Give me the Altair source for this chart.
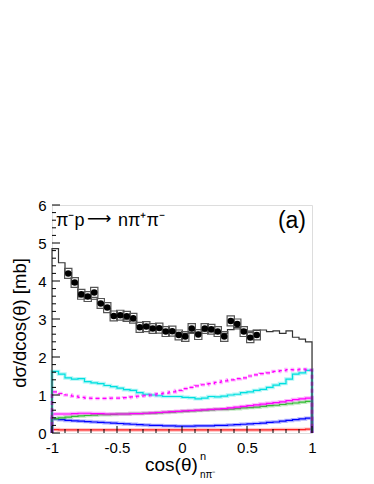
import altair as alt
import pandas as pd

# ---------------- data ----------------
edges = [round(-1 + 0.05 * i, 3) for i in range(41)]

data_x = [round(-0.875 + 0.05 * k, 3) for k in range(30)]
data_vals = [4.20, 3.96, 3.65, 3.59, 3.70, 3.41, 3.30, 3.08, 3.10, 3.07,
             3.02, 2.78, 2.80, 2.75, 2.76, 2.67, 2.68, 2.58, 2.54, 2.75,
             2.59, 2.75, 2.73, 2.67, 2.54, 2.95, 2.87, 2.67, 2.51, 2.58]

mc_total = [4.85, 4.48, 4.22, 3.92, 3.58, 3.55, 3.52, 3.40, 3.28, 3.10,
            3.05, 2.98, 2.95, 2.82, 2.80, 2.78, 2.75, 2.72, 2.70, 2.65,
            2.62, 2.65, 2.65, 2.68, 2.66, 2.62, 2.62, 2.72, 2.78, 2.72,
            2.68, 2.70, 2.71, 2.67, 2.69, 2.62, 2.69, 2.52, 2.47, 2.40]

cyan_vals = [1.62, 1.55, 1.45, 1.42, 1.43, 1.35, 1.32, 1.30, 1.25, 1.22,
             1.18, 1.14, 1.12, 1.06, 1.02, 1.00, 0.98, 0.96, 0.96, 0.96,
             0.94, 0.93, 0.90, 0.92, 0.96, 0.95, 0.97, 1.00, 1.02, 1.06,
             1.08, 1.12, 1.15, 1.20, 1.26, 1.30, 1.42, 1.55, 1.58, 1.65]

magenta_dash_vals = [1.08, 1.04, 1.00, 0.97, 0.94, 0.92, 0.91, 0.91, 0.91, 0.92,
                     0.92, 0.93, 0.95, 0.97, 0.98, 1.00, 1.03, 1.05, 1.08, 1.12,
                     1.17, 1.20, 1.24, 1.27, 1.30, 1.33, 1.37, 1.40, 1.43, 1.45,
                     1.50, 1.53, 1.56, 1.58, 1.62, 1.64, 1.67, 1.66, 1.68, 1.66]

magenta_vals = [0.50, 0.50, 0.50, 0.51, 0.52, 0.52, 0.51, 0.51, 0.50, 0.50,
                0.50, 0.50, 0.51, 0.51, 0.52, 0.53, 0.54, 0.55, 0.56, 0.57,
                0.58, 0.59, 0.60, 0.61, 0.62, 0.63, 0.64, 0.66, 0.68, 0.70,
                0.72, 0.74, 0.76, 0.78, 0.80, 0.82, 0.85, 0.88, 0.90, 0.92]

green_vals = [0.38, 0.40, 0.42, 0.44, 0.45, 0.46, 0.47, 0.48, 0.48, 0.49,
              0.50, 0.50, 0.51, 0.51, 0.52, 0.52, 0.53, 0.54, 0.55, 0.56,
              0.57, 0.58, 0.59, 0.60, 0.61, 0.62, 0.62, 0.63, 0.64, 0.66,
              0.67, 0.68, 0.70, 0.72, 0.73, 0.75, 0.77, 0.79, 0.81, 0.83]

blue_vals = [0.37, 0.35, 0.33, 0.32, 0.31, 0.30, 0.29, 0.28, 0.27, 0.26,
             0.25, 0.24, 0.23, 0.22, 0.21, 0.20, 0.20, 0.19, 0.19, 0.18,
             0.18, 0.18, 0.19, 0.19, 0.19, 0.20, 0.20, 0.21, 0.22, 0.23,
             0.24, 0.25, 0.26, 0.28, 0.29, 0.31, 0.33, 0.35, 0.37, 0.39]

red_vals = [0.09, 0.08, 0.08, 0.08, 0.08, 0.08, 0.08, 0.08, 0.08, 0.08,
            0.08, 0.08, 0.08, 0.08, 0.08, 0.08, 0.08, 0.08, 0.08, 0.08,
            0.08, 0.08, 0.08, 0.08, 0.08, 0.08, 0.08, 0.08, 0.08, 0.08,
            0.08, 0.08, 0.08, 0.08, 0.09, 0.09, 0.09, 0.09, 0.09, 0.10]

y_major = [0, 1, 2, 3, 4, 5, 6]
y_minor = [round(i * 0.2, 2) for i in range(31) if i % 5]
x_major = [-1, -0.5, 0, 0.5, 1]
x_minor = [round(-1 + 0.1 * i, 2) for i in range(21) if i % 5]

FONT = "Liberation Sans"
SYS_DY = 0.13
SYS_DX = 0.028

# ---------------- helpers ----------------
xscale = alt.Scale(domain=[-1, 1], nice=False, zero=False)
yscale = alt.Scale(domain=[0, 6], nice=False, zero=False)
xaxis = alt.Axis(values=x_major, labelExpr="'' + datum.value", ticks=False, domain=False,
                 grid=False, title=None, labelFontSize=15, labelFont=FONT,
                 labelColor="black", labelPadding=7, labelFlush=False)
yaxis = alt.Axis(values=y_major, ticks=False, domain=False, grid=False, title=None,
                 labelFontSize=15, labelFont=FONT, labelColor="black", labelPadding=6)


def X(field):
    return alt.X(f"{field}:Q", scale=xscale, axis=xaxis)


def Y(field):
    return alt.Y(f"{field}:Q", scale=yscale, axis=yaxis)


def hist_df(vals):
    xs = [-1.0] + edges[:-1] + [1.0, 1.0]
    vs = [0.0] + list(vals) + [vals[-1], 0.0]
    return pd.DataFrame({"x": xs, "v": vs, "i": list(range(len(xs)))})


def hist_layers(vals, color, dash=None, band=True, width=1.2):
    df = hist_df(vals)
    out = []
    enc = dict(x=X("x"), y=Y("v"), order=alt.Order("i:Q"))
    if band:
        kw = dict(interpolate="step-after", color=color, strokeWidth=3.5, opacity=0.3)
        if dash:
            kw["strokeDash"] = dash
        out.append(alt.Chart(df).mark_line(**kw).encode(**enc))
    kw = dict(interpolate="step-after", color=color, strokeWidth=width)
    if dash:
        kw["strokeDash"] = dash
    out.append(alt.Chart(df).mark_line(**kw).encode(**enc))
    return out


layers = []
layers += hist_layers(red_vals, "#ff2020")
layers += hist_layers(blue_vals, "#0000ff")
layers += hist_layers(green_vals, "#33bb33")
layers += hist_layers(magenta_vals, "#ff00ff")
layers += hist_layers(cyan_vals, "#00e0e0")
layers += hist_layers(magenta_dash_vals, "#ff00ff", dash=[4, 3])
layers += hist_layers(mc_total, "#333333", band=False, width=1.2)

pts = pd.DataFrame({"x": data_x, "v": data_vals})
pts["x0"] = pts["x"] - SYS_DX
pts["x1"] = pts["x"] + SYS_DX
pts["y0"] = pts["v"] - SYS_DY
pts["y1"] = pts["v"] + SYS_DY

boxes = alt.Chart(pts).mark_rect(fill="white", fillOpacity=0, stroke="#555555",
                                  strokeWidth=1.2).encode(
    x=X("x0"), x2="x1", y=Y("y0"), y2="y1")
circles = alt.Chart(pts).mark_circle(size=42, color="black", opacity=1).encode(
    x=X("x"), y=Y("v"))
layers += [boxes, circles]


# inward ticks
def yticks(vals, length):
    return alt.Chart(pd.DataFrame({"v": vals})).mark_rule(color="black", strokeWidth=1).encode(
        y=Y("v"), x=alt.value(0), x2=alt.value(length))


def xticks(vals, length):
    return alt.Chart(pd.DataFrame({"x": vals})).mark_rule(color="black", strokeWidth=1).encode(
        x=X("x"), y=alt.value(228), y2=alt.value(228 - length))


layers += [yticks(y_major, 8), yticks(y_minor, 4), xticks(x_major, 7), xticks(x_minor, 4)]


# texts
def txt(text, x, y, size, align="left", angle=0, baseline="alphabetic", font=FONT):
    return alt.Chart(pd.DataFrame({"t": [text]})).mark_text(
        font=font, fontSize=size, align=align, baseline=baseline, angle=angle,
        color="black").encode(text="t:N", x=alt.value(x), y=alt.value(y))


layers += [
    txt("π⁻p", 4, 21, 18),
    txt("⟶", 35, 19, 17, font="DejaVu Sans"),
    txt("nπ⁺π⁻", 66, 21, 18),
    txt("(a)", 254, 23, 23, align="right"),
    txt("cos(θ)", 93, 266, 19),
    txt("n", 148, 255, 11),
    txt("nπ⁻", 148, 273, 10),
    txt("dσ/dcos(θ) [mb]", -32, 118, 18.5, align="center", angle=270, baseline="middle"),
]

chart = alt.layer(*layers).properties(
    width=260, height=228,
    padding={"left": 44, "top": 197, "right": 40, "bottom": 50},
    autosize=alt.AutoSizeParams(type="none"),
).configure_view(stroke="black", strokeWidth=1.3).configure(background="white")

chart.save("out.html", embed_options={"renderer": "svg", "actions": False})
